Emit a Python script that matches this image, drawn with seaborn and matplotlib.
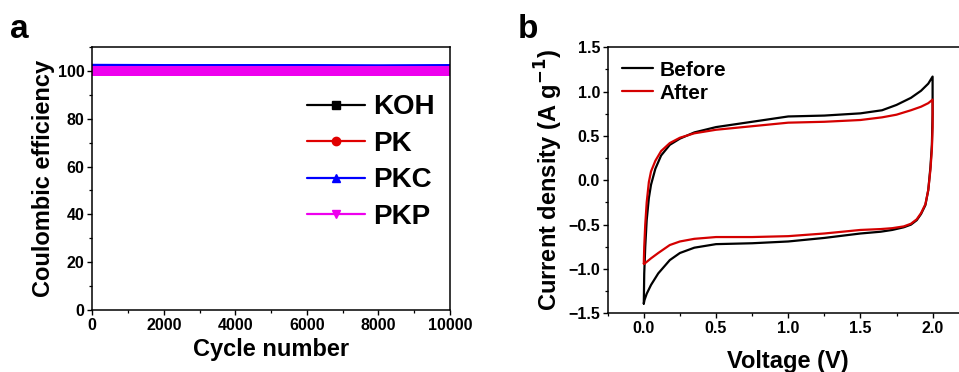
import numpy as np
import pandas as pd
import seaborn as sns
import matplotlib.pyplot as plt
from matplotlib.lines import Line2D
from matplotlib.ticker import MultipleLocator

# panel a: coulombic efficiency over cycling
cycles = [1, 2000, 4000, 6000, 8000, 10000]
ce_koh = [102.2, 102.1, 102.1, 102.1, 102.1, 102.1]
ce_pk = [101.6, 101.6, 101.5, 101.6, 101.5, 101.6]
ce_pkc = [102.4, 102.3, 102.3, 102.3, 102.2, 102.3]
ce_pkp = [99.9, 99.9, 99.9, 99.9, 99.9, 99.9]

# panel b: CV loops before / after cycling (anodic then cathodic sweep)
v_before = [0.0, 0.003, 0.01, 0.02, 0.035, 0.05, 0.08, 0.12, 0.18, 0.25, 0.35, 0.5, 0.75, 1.0, 1.25,
            1.5, 1.65, 1.75, 1.85, 1.92, 1.97, 2.0,
            2.0, 1.995, 1.985, 1.97, 1.95, 1.92, 1.89, 1.85, 1.8, 1.72, 1.64, 1.5, 1.25, 1.0, 0.75,
            0.5, 0.35, 0.25, 0.18, 0.1, 0.05, 0.02, 0.005, 0.0]
i_before = [-1.39, -1.05, -0.75, -0.45, -0.2, -0.05, 0.13, 0.28, 0.40, 0.47, 0.54, 0.60, 0.66, 0.72, 0.73,
            0.755, 0.79, 0.85, 0.93, 1.01, 1.09, 1.17,
            0.75, 0.4, 0.15, -0.11, -0.28, -0.38, -0.45, -0.50, -0.53, -0.56, -0.58, -0.60, -0.65, -0.69, -0.71,
            -0.72, -0.76, -0.82, -0.90, -1.05, -1.18, -1.28, -1.35, -1.39]
v_after = [0.0, 0.003, 0.01, 0.02, 0.035, 0.05, 0.08, 0.12, 0.18, 0.25, 0.35, 0.5, 0.75, 1.0, 1.25,
           1.5, 1.65, 1.75, 1.85, 1.92, 1.97, 2.0,
           2.0, 1.995, 1.985, 1.97, 1.95, 1.92, 1.89, 1.85, 1.8, 1.72, 1.64, 1.5, 1.25, 1.0, 0.75,
           0.5, 0.35, 0.25, 0.18, 0.1, 0.05, 0.02, 0.005, 0.0]
i_after = [-0.94, -0.75, -0.5, -0.25, -0.02, 0.1, 0.22, 0.33, 0.42, 0.48, 0.53, 0.57, 0.61, 0.65, 0.66,
           0.68, 0.71, 0.74, 0.79, 0.83, 0.87, 0.91,
           0.6, 0.35, 0.12, -0.11, -0.27, -0.37, -0.44, -0.49, -0.52, -0.54, -0.55, -0.56, -0.60, -0.63, -0.64,
           -0.64, -0.66, -0.69, -0.73, -0.82, -0.88, -0.92, -0.94, -0.94]

sns.set_style("ticks")
plt.rcParams['font.family'] = ['Liberation Sans', 'DejaVu Sans']
plt.rcParams['font.weight'] = 'bold'
plt.rcParams['axes.labelweight'] = 'bold'
plt.rcParams['axes.linewidth'] = 1.1
plt.rcParams['xtick.direction'] = 'out'
plt.rcParams['ytick.direction'] = 'out'
for key in ['text.color', 'axes.labelcolor', 'xtick.color', 'ytick.color', 'axes.edgecolor']:
    plt.rcParams[key] = 'black'

fig = plt.figure(figsize=(9.59, 3.72), dpi=100)
ax1 = fig.add_axes([92.3 / 959, 62 / 372, 357.7 / 959, 263 / 372])
ax2 = fig.add_axes([607.7 / 959, 58.7 / 372, 361 / 959, 266 / 372])

# ---- panel a
df_ce = pd.DataFrame({'cycle': cycles * 4,
                      'ce': ce_koh + ce_pk + ce_pkc + ce_pkp,
                      'sample': ['KOH'] * 6 + ['PK'] * 6 + ['PKC'] * 6 + ['PKP'] * 6})
colors = {'KOH': 'black', 'PK': '#e00000', 'PKC': '#0000ff', 'PKP': '#ee00ee'}
widths = {'KOH': 1.2, 'PK': 1.2, 'PKC': 2.0, 'PKP': 7.2}
for name in ['KOH', 'PK', 'PKC', 'PKP']:
    sns.lineplot(data=df_ce[df_ce['sample'] == name], x='cycle', y='ce', color=colors[name],
                 lw=widths[name], ax=ax1, legend=False)
ax1.set_xlim(0, 10000)
ax1.set_ylim(0, 110)
ax1.xaxis.set_major_locator(MultipleLocator(2000))
ax1.xaxis.set_minor_locator(MultipleLocator(1000))
ax1.yaxis.set_major_locator(MultipleLocator(20))
ax1.yaxis.set_minor_locator(MultipleLocator(10))
ax1.set_xlabel('Cycle number', fontsize=17, labelpad=4)
ax1.set_ylabel('Coulombic efficiency', fontsize=17, labelpad=2)
markers = {'KOH': 's', 'PK': 'o', 'PKC': '^', 'PKP': 'v'}
handles = [Line2D([], [], color=colors[n], lw=1.6, marker=markers[n], markersize=6) for n in markers]
ax1.legend(handles, list(markers), loc='upper left', bbox_to_anchor=(0.6, 0.82), frameon=False,
           fontsize=20, handlelength=2.1, handletextpad=0.3, labelspacing=0.38, borderpad=0,
           borderaxespad=0)

# ---- panel b
df_b = pd.DataFrame({'v': v_before, 'i': i_before})
df_a = pd.DataFrame({'v': v_after, 'i': i_after})
sns.lineplot(data=df_b, x='v', y='i', sort=False, estimator=None, color='black', lw=1.6, ax=ax2,
             label='Before')
sns.lineplot(data=df_a, x='v', y='i', sort=False, estimator=None, color='#d40000', lw=1.6, ax=ax2,
             label='After')
ax2.set_xlim(-0.25, 2.25)
ax2.set_ylim(-1.5, 1.5)
ax2.xaxis.set_major_locator(MultipleLocator(0.5))
ax2.xaxis.set_minor_locator(MultipleLocator(0.25))
ax2.yaxis.set_major_locator(MultipleLocator(0.5))
ax2.yaxis.set_minor_locator(MultipleLocator(0.25))
ax2.set_xlabel('Voltage (V)', fontsize=17, labelpad=10)
ax2.set_ylabel('Current density (A g$^{\\mathbf{-1}}$)', fontsize=17, labelpad=2)
ax2.legend(loc='upper left', bbox_to_anchor=(0.04, 0.95), frameon=False, fontsize=15,
           handlelength=1.5, handletextpad=0.3, labelspacing=0.2, borderpad=0, borderaxespad=0)

for ax in (ax1, ax2):
    ax.tick_params(which='major', length=3.5, width=1.0, labelsize=11.5, pad=2)
    ax.tick_params(which='minor', length=2, width=0.9)
    for lab in ax.get_xticklabels() + ax.get_yticklabels():
        lab.set_fontweight('bold')

fig.text(10 / 959, 1 - 38 / 372, 'a', fontsize=24, fontweight='bold')
fig.text(518 / 959, 1 - 38 / 372, 'b', fontsize=24, fontweight='bold')

fig.savefig('out.png', dpi=100)
